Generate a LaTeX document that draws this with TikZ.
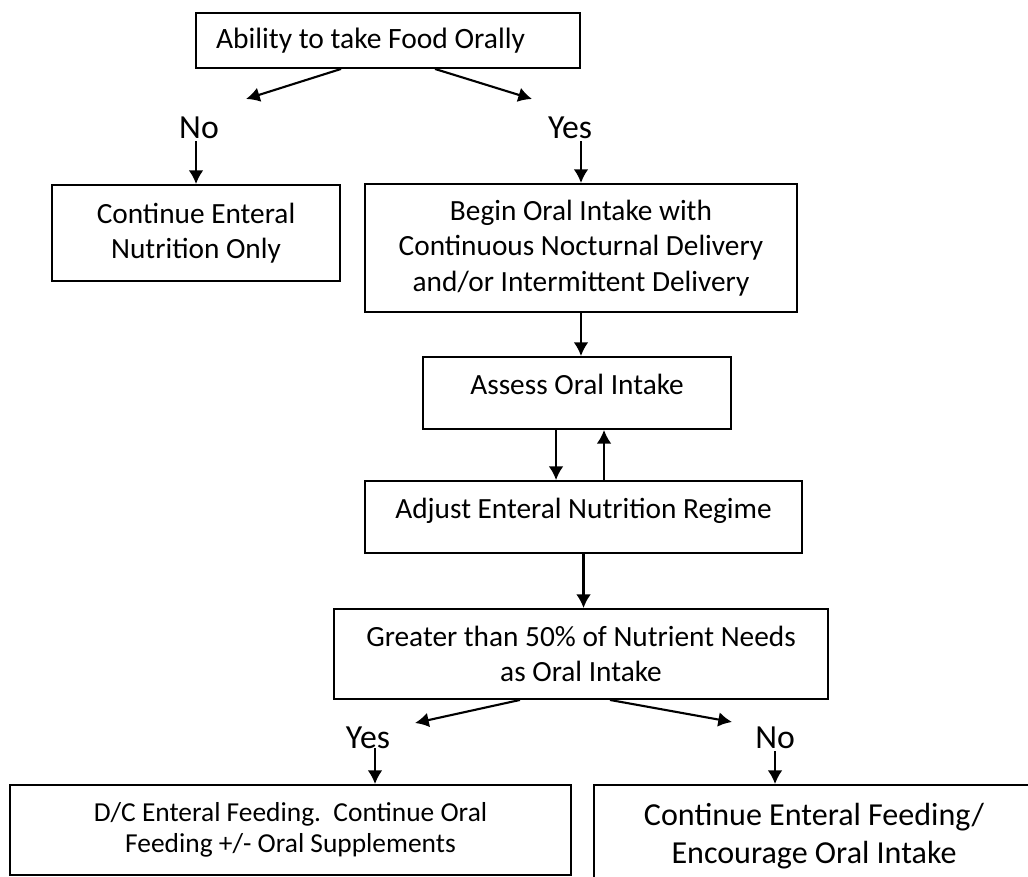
\documentclass[tikz,border=0pt]{standalone}
\usepackage{fontspec}
\setmainfont{Carlito}
\usepackage{tikz}
\usetikzlibrary{calc}
\usetikzlibrary{arrows.meta,positioning}

\begin{document}
\begin{tikzpicture}[transform shape,scale=1,
	box/.style={draw,line width=0.9pt,align=center,inner sep=0pt,font=\fontsize{13.9}{16.8}\selectfont},
	ans/.style={inner sep=1pt,font=\fontsize{16}{19}\selectfont},
	arr/.style={-{Latex[length=6.5pt,width=7pt]},line width=1pt}]
	\useasboundingbox (0,0) rectangle (17.133,14.6);
	\clip (0,0) rectangle (17.133,14.6);
	\node[box,minimum width=6.4cm,minimum height=0.917cm,text width=5.733cm,align=flush left,inner xsep=0.333cm,font=\fontsize{14}{17}\selectfont] (food) at (6.467,13.925) {Ability to take Food Orally};
	\node[ans] (no) at (3.317,12.467) {No};
	\node[ans] (yes) at (9.5,12.467) {Yes};
	\coordinate (noend) at (4.1,12.95);
	\coordinate (yesend) at (8.867,12.95);
	\draw[arr] ($(food.south)+(-0.783,0)$) -- (noend);
	\draw[arr] ($(food.south)+(0.783,0)$) -- (yesend);
	\node[box,minimum width=4.8cm,minimum height=1.6cm] (enteral) at (3.267,10.717) {Continue Enteral\\Nutrition Only};
	\node[box,minimum width=7.2cm,minimum height=2.133cm] (begin) at (9.683,10.467) {Begin Oral Intake with\\Continuous Nocturnal Delivery\\and/or Intermittent Delivery};
	\draw[arr] (enteral.north |- no.south) -- (enteral.north);
	\draw[arr] (begin.north |- yes.south) -- (begin.north);
	\node[box,minimum width=5.133cm,minimum height=1.2cm,text depth=0.3cm] (assess) at (9.617,8.05) {Assess Oral Intake};
	\draw[arr] (begin.south) -- (begin.south |- assess.north);
	\node[box,minimum width=7.283cm,minimum height=1.2cm,text depth=0.3cm] (adjust) at (9.725,5.983) {Adjust Enteral Nutrition Regime};
	\coordinate (down) at ($(assess.south)+(-0.35,0)$);
	\coordinate (up) at ($(assess.south)+(0.45,0)$);
	\draw[arr] (down) -- (down |- adjust.north);
	\draw[arr] (up |- adjust.north) -- (up);
	\node[box,minimum width=8.233cm,minimum height=1.5cm] (needs) at (9.683,3.7) {Greater than 50\% of Nutrient Needs\\as Oral Intake};
	\draw[arr] (adjust.south) -- (adjust.south |- needs.north);
	\node[ans] (yes2) at (6.133,2.3) {Yes};
	\node[ans] (no2) at (12.917,2.3) {No};
	\coordinate (yes2end) at (6.917,2.55);
	\coordinate (no2end) at (12.2,2.567);
	\draw[arr] ($(needs.south)+(-1.017,0)$) -- (yes2end);
	\draw[arr] ($(needs.south)+(0.483,0)$) -- (no2end);
	\node[box,minimum width=9.35cm,minimum height=1.5cm,font=\fontsize{13}{15}\selectfont] (stop) at (4.842,0.767) {D/C Enteral Feeding.\ \ Continue Oral\\Feeding +/- Oral Supplements};
	\node[box,minimum width=7.333cm,minimum height=1.7cm,font=\fontsize{15.2}{18.2}\selectfont] (keep) at (13.567,0.667) {Continue Enteral Feeding/\\Encourage Oral Intake};
	\coordinate (yes2down) at (6.25,2.133);
	\draw[arr] (yes2down) -- (yes2down |- stop.north);
	\draw[arr] (no2.south) -- (no2.south |- keep.north);
\end{tikzpicture}
\end{document}
